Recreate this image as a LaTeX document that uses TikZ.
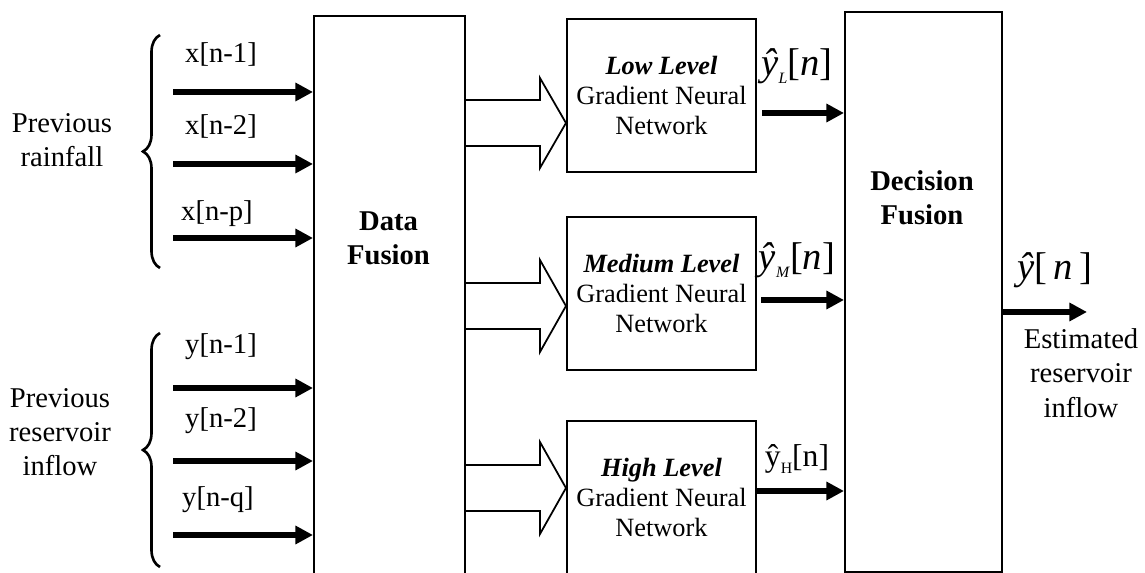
\documentclass[tikz,border=0pt]{standalone}
\usepackage{fontspec}
\setmainfont{Liberation Serif}
\usetikzlibrary{arrows.meta,positioning,calc,decorations.pathreplacing}
\newcommand{\lvlname}[1]{\textbf{\textit{#1}}\\Gradient Neural\\Network}
\newcommand{\ysub}[1]{\raisebox{-0.45ex}{\fontsize{9}{9}\selectfont#1}}
\tikzset{
  nnbox/.style={draw,line width=1.2pt,minimum width=3.78cm,minimum height=3.06cm,align=center,inner sep=2pt,font=\fontsize{15}{17}\selectfont},
  fusbox/.style={draw,line width=1.2pt,inner sep=0pt},
  txt/.style={align=center,inner sep=0pt,font=\fontsize{16.3}{19.5}\selectfont},
  btxt/.style={txt,font=\fontsize{16.3}{19.5}\selectfont\bfseries},
  ylab/.style={inner sep=0pt,font=\fontsize{22}{22}\selectfont},
  ar/.style={-{Triangle[length=10pt,width=10pt]},line width=3.8pt},
  hollow/.style={draw,line width=1pt,line join=miter},
  brc/.style={decorate,decoration={brace,amplitude=0.34cm},line width=1.5pt},
}
\begin{document}
\begin{tikzpicture}[x=0.02cm,y=-0.02cm]
\useasboundingbox (0,0) rectangle (1145,573);
% fusion blocks
\node[fusbox,minimum width=3.02cm,minimum height=12cm,anchor=north west] (df) at (313,15) {};
\node[btxt] (dftxt) at (388.5,238) {Data\\Fusion};
\node[fusbox,minimum width=3.14cm,minimum height=11.2cm,anchor=north west] (dec) at (844,11) {};
\node[btxt] (dectxt) at (922,198) {Decision\\Fusion};
% level networks
\node[nnbox] (lo) at (661.5,95.5) {\lvlname{Low Level}};
\node[nnbox,below=0.86cm of lo] (md) {\lvlname{Medium Level}};
\node[nnbox,below=0.98cm of md] (hi) {\lvlname{High Level}};
% inputs
\node[txt] (rain) at (62,140) {Previous\\rainfall};
\node[txt] (resv) at (60,432) {Previous\\reservoir\\inflow};
\draw[brc] (160,268) -- (160,35);
\draw[brc] (160,567) -- (160,333);
\node[txt] (x1) at (221,54) {x[n-1]};
\node[txt] (x2) at (221,126) {x[n-2]};
\node[txt] (xp) at (217,214) {x[n-p]};
\node[txt] (y1) at (221,347) {y[n-1]};
\node[txt] (y2) at (221,421) {y[n-2]};
\node[txt] (yq) at (218,500) {y[n-q]};
\coordinate (ix1) at (173,92); \coordinate (ix2) at (173,164); \coordinate (ixp) at (173,238);
\coordinate (iy1) at (173,388); \coordinate (iy2) at (173,461); \coordinate (iyq) at (173,535);
\draw[ar] (ix1) -- (ix1-|df.west); \draw[ar] (ix2) -- (ix2-|df.west); \draw[ar] (ixp) -- (ixp-|df.west);
\draw[ar] (iy1) -- (iy1-|df.west); \draw[ar] (iy2) -- (iy2-|df.west); \draw[ar] (iyq) -- (iyq-|df.west);
% hollow arrows into the networks
\coordinate (tlo) at (lo.west|-0,123); \coordinate (tmd) at (md.west|-0,306); \coordinate (thi) at (hi.west|-0,488);
\draw[hollow] ($(df.east|-tlo)+(0,-23)$) -| ($(tlo)+(-26,-45)$) -- (tlo) -- ($(tlo)+(-26,45)$) |- ($(df.east|-tlo)+(0,23)$);
\draw[hollow] ($(df.east|-tmd)+(0,-23)$) -| ($(tmd)+(-26,-46)$) -- (tmd) -- ($(tmd)+(-26,46)$) |- ($(df.east|-tmd)+(0,23)$);
\draw[hollow] ($(df.east|-thi)+(0,-23)$) -| ($(thi)+(-26,-46)$) -- (thi) -- ($(thi)+(-26,46)$) |- ($(df.east|-thi)+(0,23)$);
% outputs
\node[ylab] (ylo) at (797,66) {\textit{ŷ}\ysub{\textit{L}}[\textit{n}]};
\node[ylab] (ymd) at (797,260) {\textit{ŷ}\ysub{\textit{M}}[\textit{n}]};
\node[ylab,font=\fontsize{18}{18}\selectfont] (yhi) at (797,459) {ŷ\ysub{H}[n]};
\draw[ar] ($(lo.east|-0,113)+(5,0)$) -- (dec.west|-0,113);
\draw[ar] ($(md.east|-0,300)+(4,0)$) -- (dec.west|-0,300);
\draw[ar] (hi.east|-0,491) -- (dec.west|-0,491);
\node[ylab] (yout) at (1055,270) {\textit{ŷ}[\,\textit{n}\,]};
\coordinate (out) at (1087,312);
\draw[ar] (dec.east|-out) -- (out);
\node[txt] (est) at (1081,373) {Estimated\\reservoir\\inflow};
\end{tikzpicture}
\end{document}
